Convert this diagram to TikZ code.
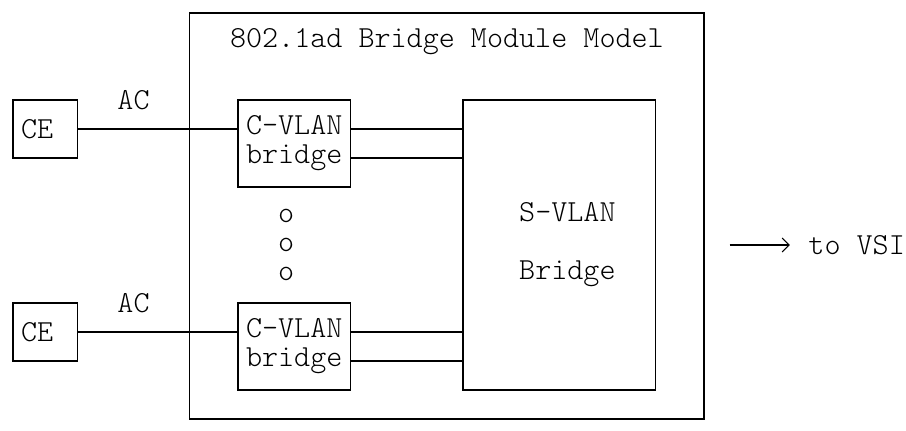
\documentclass[tikz,border=0pt]{standalone}
\usepackage{fontspec}
\setmonofont{lmmonolt10-regular.otf}
\usetikzlibrary{arrows.meta}

\begin{document}
\begin{tikzpicture}[x=16.07pt, y=-29pt, line width=1.1pt,
    every node/.style={font=\ttfamily\fontsize{30.6}{29}\selectfont, inner sep=0pt},
    box/.style={draw, align=center}]
      \useasboundingbox (-13pt,13pt) rectangle (893pt,-418pt);
      \node (module) [box, minimum width=514.2pt, minimum height=406pt] at (27,7) {};
      \node (title) at (27,1) {802.1ad Bridge Module Model};
      \node (ce1) [box, minimum width=64.3pt, minimum height=58pt] at (2,4) {CE\phantom{E}};
      \node (ac1) at (7.5,3) {AC};
      \node (cvlan1) [box, minimum width=112.5pt, minimum height=87pt] at (17.5,4.5) {C-VLAN\\bridge};
      \node (dot1) at (17,7) {o};
      \node (dot2) at (17,8) {o};
      \node (dot3) at (17,9) {o};
      \node (ce2) [box, minimum width=64.3pt, minimum height=58pt] at (2,11) {CE\phantom{E}};
      \node (ac2) at (7.5,10) {AC};
      \node (cvlan2) [box, minimum width=112.5pt, minimum height=87pt] at (17.5,11.5) {C-VLAN\\bridge};
      \node (svlan) [box, minimum width=192.8pt, minimum height=290pt] at (34,8) {\phantom{S}S-VLAN\\[29pt]\phantom{B}Bridge};
      \coordinate (vsiout) at (44.6,8);
      \node (vsi) at (52.5,8) {to VSI};
      \draw [-] (ce1.east) to (ce1.east -| cvlan1.west);
      \draw [-] ([yshift=14.5pt]cvlan1.east) to ([yshift=14.5pt]cvlan1.east -| svlan.west);
      \draw [-] ([yshift=-14.5pt]cvlan1.east) to ([yshift=-14.5pt]cvlan1.east -| svlan.west);
      \draw [-] (ce2.east) to (ce2.east -| cvlan2.west);
      \draw [-] ([yshift=14.5pt]cvlan2.east) to ([yshift=14.5pt]cvlan2.east -| svlan.west);
      \draw [-] ([yshift=-14.5pt]cvlan2.east) to ([yshift=-14.5pt]cvlan2.east -| svlan.west);
      \draw [-{Straight Barb[length=7pt,width=14pt]}, shorten >=18pt] (vsiout) to (vsi.west);
      \end{tikzpicture}
\end{document}
